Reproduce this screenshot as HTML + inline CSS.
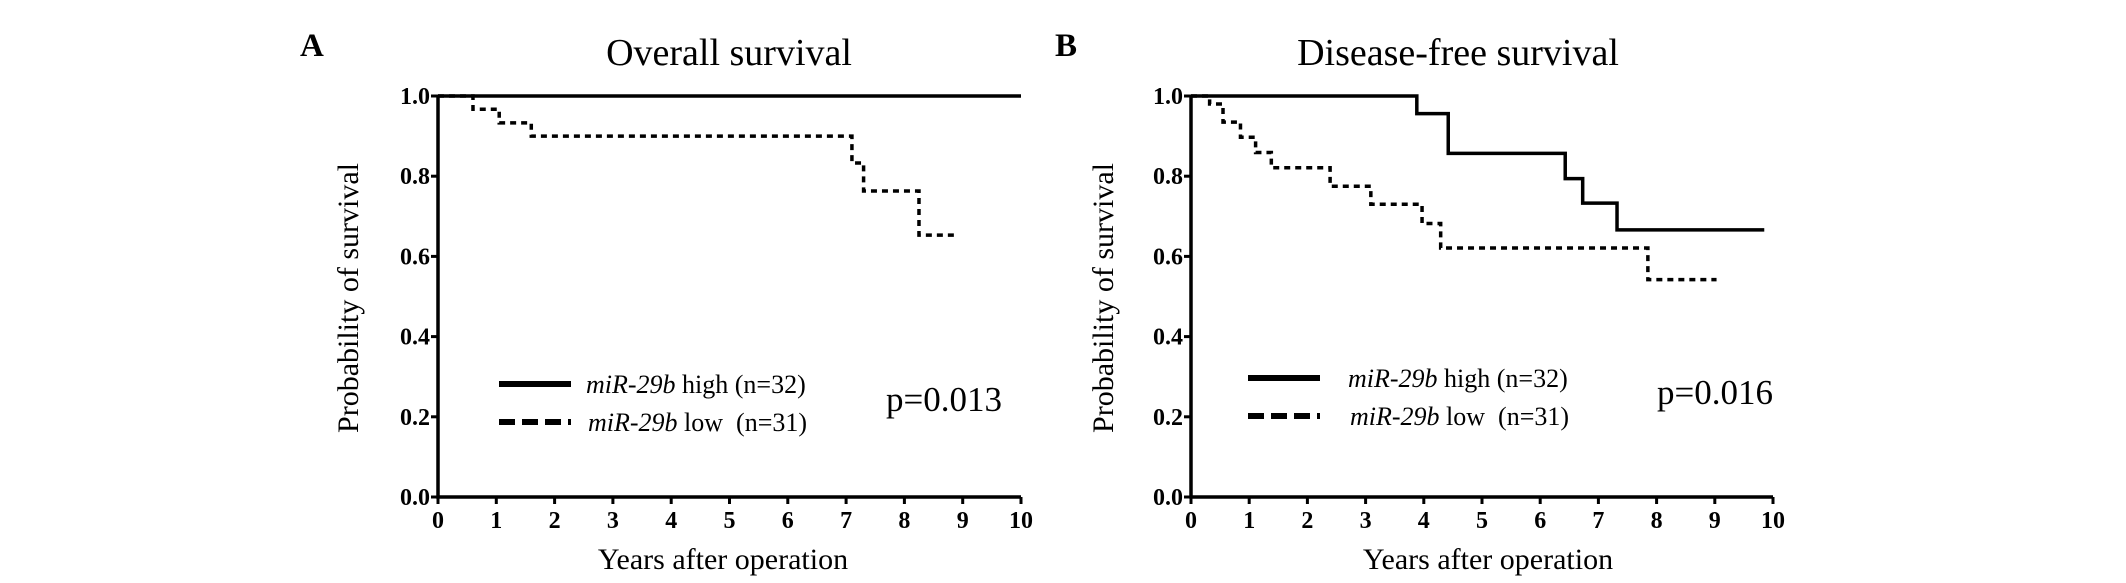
<!DOCTYPE html>
<html><head><meta charset="utf-8"><style>
html,body{margin:0;padding:0;background:#fff;}
svg{display:block;font-family:"Liberation Serif",serif;}
</style></head><body>
<svg id="fig" width="2126" height="583" viewBox="0 0 2126 583" xmlns="http://www.w3.org/2000/svg"></svg>
<script>
// ---- data ----
const xTicks = [0,1,2,3,4,5,6,7,8,9,10];
const yTicks = ["0.0","0.2","0.4","0.6","0.8","1.0"];
// Panel A (overall survival)
const aHighTimes = [0, 10];
const aHighProb  = [1.0, 1.0];
const aLowTimes  = [0.6, 1.05, 1.6, 7.1, 7.3, 8.25, 8.9];
const aLowProb   = [0.967, 0.933, 0.9, 0.833, 0.763, 0.653, 0.653];
// Panel B (disease-free survival)
const bHighTimes = [0, 3.88, 4.42, 6.43, 6.73, 7.32, 9.85];
const bHighProb  = [1.0, 0.956, 0.857, 0.794, 0.733, 0.666, 0.666];
const bLowTimes  = [0.32, 0.55, 0.85, 1.11, 1.38, 2.39, 3.09, 3.97, 4.29, 7.85, 9.03];
const bLowProb   = [0.98, 0.935, 0.897, 0.859, 0.821, 0.775, 0.73, 0.682, 0.621, 0.542, 0.542];

const NS="http://www.w3.org/2000/svg";
const svg=document.getElementById('fig');
function mk(tag,attrs,parent){const e=document.createElementNS(NS,tag);for(const k in attrs)e.setAttribute(k,attrs[k]);(parent||svg).appendChild(e);return e;}
function txt(s,attrs,parent){const e=mk('text',attrs,parent);e.textContent=s;return e;}

function panel(p){
  const g=mk('g',{});
  
  
  const sx=v=>p.x0+(p.x1-p.x0)*v/10;
  const sy=v=>p.y0+(p.y1-p.y0)*v;
  const L=txt(p.letter,{x:p.letterX,y:56,'font-size':33,'font-weight':'bold'},g);
  
  
  const T=txt(p.title,{x:p.titleX,y:65,'font-size':38,'text-anchor':'middle'},g);
  
  
  const ax=mk('path',{d:`M${p.x0} ${sy(1)-1.5}V${p.y0}H${p.x1}`,stroke:'#000','stroke-width':3.5,fill:'none'},g);
  
  
  xTicks.forEach(t=>{
    const tl=mk('line',{x1:sx(t),x2:sx(t),y1:p.y0,y2:p.y0+7,stroke:'#000','stroke-width':3},g);
    
    
    const lb=txt(String(t),{x:sx(t),y:p.y0+31,'font-size':24,'font-weight':'bold','text-anchor':'middle'},g);
    
    
  });
  yTicks.forEach(t=>{
    const v=parseFloat(t);
    const tl=mk('line',{x1:p.x0-7,x2:p.x0,y1:sy(v),y2:sy(v),stroke:'#000','stroke-width':3},g);
    
    
    const lb=txt(t,{x:p.x0-8,y:sy(v)+8,'font-size':24,'font-weight':'bold','text-anchor':'end'},g);
    
    
  });
  const yl=txt('Probability of survival',{x:0,y:0,'font-size':30,'text-anchor':'middle',transform:`translate(${p.ylabX},298) rotate(-90)`},g);
  
  
  const xl=txt('Years after operation',{x:p.xlabX,y:569,'font-size':30,'text-anchor':'middle'},g);
  
  
  function step(times,probs,start){
    let d;
    if(start){d=`M${sx(start[0])} ${sy(start[1])}`;}
    else d=`M${sx(times[0])} ${sy(probs[0])}`;
    for(let i=start?0:1;i<times.length;i++){
      d+=`H${sx(times[i])}V${sy(probs[i])}`;
    }
    return d;
  }
  const hi=mk('path',{d:step(p.hiT,p.hiP),stroke:'#000','stroke-width':3.5,fill:'none'},g);
  
  
  const lo=mk('path',{d:step(p.loT,p.loP,[0,1]),stroke:'#000','stroke-width':3.5,fill:'none','stroke-dasharray':'6 5'},g);
  
  
  const l1=mk('line',{x1:p.legX,x2:p.legX+72,y1:p.legY,y2:p.legY,stroke:'#000','stroke-width':6},g);
  
  
  const l2=mk('line',{x1:p.legX,x2:p.legX+72,y1:p.legY+38,y2:p.legY+38,stroke:'#000','stroke-width':6,'stroke-dasharray':'16 7'},g);
  
  
  const t1=txt('',{x:p.legTX,y:p.legY+9,'font-size':26},g);
  t1.innerHTML='<tspan font-style="italic">miR-29b</tspan> high (n=32)';
  
  
  const t2=txt('',{x:p.legTX+2,y:p.legY+47,'font-size':26},g);
  t2.innerHTML='<tspan font-style="italic">miR-29b</tspan> low \u00a0(n=31)';
  
  
  const pv=txt(p.pval,{x:p.pX,y:p.pY,'font-size':35},g);
  
  
}
panel({key:'a',letter:'A',letterX:300,title:'Overall survival',titleX:729,x0:438,x1:1021,y0:497,y1:96,
  ylabX:358,xlabX:723,hiT:aHighTimes,hiP:aHighProb,loT:aLowTimes,loP:aLowProb,
  legX:499,legY:384,legTX:586,pval:'p=0.013',pX:886,pY:411});
panel({key:'b',letter:'B',letterX:1055,title:'Disease-free survival',titleX:1458,x0:1191,x1:1773,y0:497,y1:96,
  ylabX:1113,xlabX:1488,hiT:bHighTimes,hiP:bHighProb,loT:bLowTimes,loP:bLowProb,
  legX:1248,legY:378,legTX:1348,pval:'p=0.016',pX:1657,pY:404});
</script>
</body></html>
